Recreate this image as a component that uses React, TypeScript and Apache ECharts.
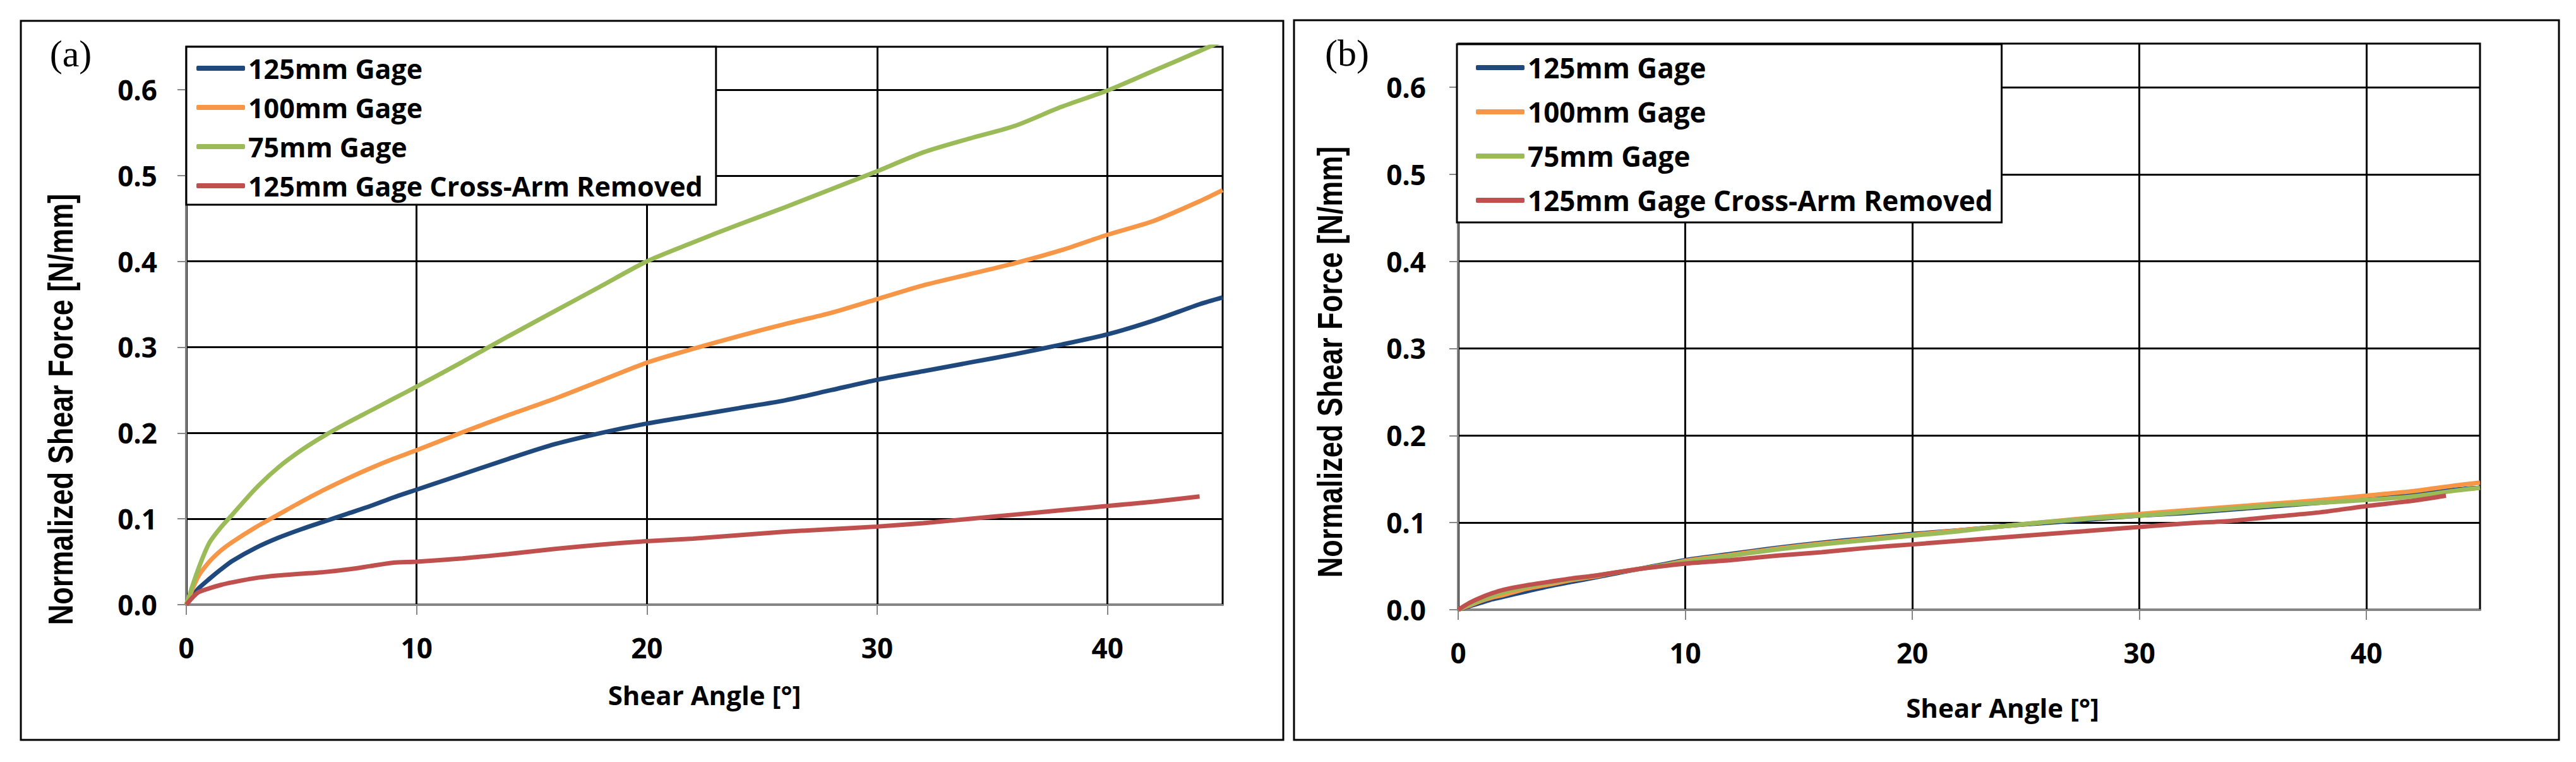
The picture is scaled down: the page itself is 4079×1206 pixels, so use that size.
import { useEffect, useRef } from "react";
import * as echarts from "echarts";

// shear angle samples [°]
const angles = [
  0, 0.5, 1, 1.5, 2, 3, 4, 5, 6, 7, 8, 9, 10, 12, 14, 16, 18, 20, 22, 24, 26,
  28, 30, 32, 34, 36, 38, 40, 42, 44, 45,
];
const anglesRedA = angles.slice(0, 30);
const anglesRedB = [...angles.slice(0, 29), 43.5];

// (a) normalized shear force [N/mm]
const gage125A = [
  0, 0.018, 0.03, 0.041, 0.051, 0.066, 0.078, 0.088, 0.097, 0.106, 0.115,
  0.125, 0.134, 0.152, 0.17, 0.187, 0.2, 0.211, 0.22, 0.229, 0.238, 0.25,
  0.262, 0.272, 0.282, 0.292, 0.303, 0.315, 0.331, 0.35, 0.358,
];
const gage100A = [
  0, 0.032, 0.05, 0.063, 0.073, 0.09, 0.105, 0.12, 0.134, 0.147, 0.159, 0.17,
  0.18, 0.201, 0.221, 0.24, 0.261, 0.282, 0.298, 0.313, 0.327, 0.34, 0.356,
  0.372, 0.385, 0.398, 0.413, 0.431, 0.447, 0.47, 0.483,
];
const gage75A = [
  0, 0.04, 0.072, 0.09, 0.105, 0.135, 0.16, 0.18, 0.197, 0.212, 0.226, 0.24,
  0.254, 0.283, 0.313, 0.342, 0.371, 0.4, 0.422, 0.443, 0.463, 0.484, 0.505,
  0.527, 0.543, 0.558, 0.58, 0.599, 0.622, 0.645, 0.657,
];
const crossArmA = [
  0, 0.014, 0.019, 0.023, 0.026, 0.031, 0.034, 0.036, 0.038, 0.041, 0.045,
  0.049, 0.05, 0.054, 0.059, 0.065, 0.07, 0.074, 0.077, 0.081, 0.085, 0.088,
  0.091, 0.095, 0.1, 0.105, 0.11, 0.115, 0.12, 0.126,
];

// (b) normalized shear force [N/mm]
const gage125B = [
  0, 0.004, 0.008, 0.012, 0.015, 0.021, 0.027, 0.032, 0.037, 0.042, 0.047,
  0.052, 0.057, 0.064, 0.071, 0.077, 0.082, 0.087, 0.091, 0.096, 0.1, 0.104,
  0.108, 0.111, 0.115, 0.119, 0.123, 0.127, 0.132, 0.138, 0.14,
];
const gage100B = [
  0, 0.005, 0.01, 0.014, 0.017, 0.024, 0.029, 0.034, 0.038, 0.043, 0.047,
  0.051, 0.056, 0.063, 0.07, 0.076, 0.081, 0.086, 0.091, 0.096, 0.101, 0.106,
  0.11, 0.114, 0.118, 0.122, 0.126, 0.131, 0.136, 0.143, 0.146,
];
const gage75B = [
  0, 0.006, 0.011, 0.016, 0.02, 0.026, 0.031, 0.035, 0.039, 0.043, 0.047,
  0.051, 0.055, 0.062, 0.069, 0.075, 0.08, 0.085, 0.09, 0.096, 0.101, 0.105,
  0.108, 0.112, 0.116, 0.12, 0.123, 0.126, 0.13, 0.137, 0.14,
];
const crossArmB = [
  0, 0.008, 0.014, 0.019, 0.023, 0.028, 0.032, 0.036, 0.039, 0.043, 0.047,
  0.05, 0.053, 0.057, 0.062, 0.066, 0.071, 0.075, 0.079, 0.083, 0.087, 0.091,
  0.095, 0.099, 0.102, 0.107, 0.112, 0.119, 0.125, 0.131,
];

const seriesNames = [
  "125mm Gage",
  "100mm Gage",
  "75mm Gage",
  "125mm Gage Cross-Arm Removed",
];
const seriesColors = ["#1F497D", "#F79646", "#9BBB59", "#C0504D"];
const xTicks = [0, 10, 20, 30, 40];
const yTicks = [0, 0.1, 0.2, 0.3, 0.4, 0.5, 0.6];

const FONT = "'Open Sans', 'Liberation Sans', sans-serif";

const pairs = (xs: number[], ys: number[]) => ys.map((y, i) => [xs[i], y]);

const makeX = (gridIndex: number, nameGap: number, shift: number) => ({
  type: "value",
  gridIndex,
  min: 0,
  max: 45,
  interval: 10,
  name: "Shear Angle [°]",
  nameLocation: "middle",
  nameGap,
  nameTextStyle: {
    fontFamily: FONT,
    fontSize: 42,
    fontWeight: "bold",
    color: "#000",
    padding: [0, 0, 0, shift],
  },
  axisLine: { show: true, onZero: false, lineStyle: { color: "#868686", width: 3 } },
  axisTick: {
    show: true,
    length: 16,
    customValues: xTicks,
    lineStyle: { color: "#868686", width: 2 },
  },
  axisLabel: {
    customValues: xTicks,
    margin: 46,
    fontFamily: FONT,
    fontSize: 44,
    fontWeight: "bold",
    color: "#000",
  },
  splitLine: { show: true, lineStyle: { color: "#000", width: 3 } },
});

const makeY = (gridIndex: number, margin: number) => ({
  type: "value",
  gridIndex,
  min: 0,
  max: 0.65,
  interval: 0.1,
  axisLine: { show: true, onZero: false, lineStyle: { color: "#868686", width: 2 } },
  axisTick: {
    show: true,
    length: 14,
    customValues: yTicks,
    lineStyle: { color: "#868686", width: 2 },
  },
  axisLabel: {
    customValues: yTicks,
    margin,
    formatter: (v: number) => v.toFixed(1),
    fontFamily: FONT,
    fontSize: 44,
    fontWeight: "bold",
    color: "#000",
  },
  splitLine: { show: true, lineStyle: { color: "#000", width: 3 } },
});

const makeLegend = (
  left: number,
  top: number,
  fontSize: number,
  itemGap: number,
  padding: number[]
) => ({
  data: seriesNames,
  orient: "vertical",
  left,
  top,
  icon: "roundRect",
  itemWidth: 77,
  itemHeight: 8,
  itemGap,
  padding,
  selectedMode: false,
  backgroundColor: "#fff",
  borderColor: "#000",
  borderWidth: 3,
  textStyle: {
    fontFamily: FONT,
    fontSize,
    fontWeight: "bold",
    color: "#000",
    lineHeight: 50,
  },
});

const makeSeries = (
  idx: number,
  data: { xs: number[]; ys: number[] }[]
) =>
  data.map((d, i) => ({
    name: seriesNames[i],
    type: "line",
    xAxisIndex: idx,
    yAxisIndex: idx,
    data: pairs(d.xs, d.ys),
    showSymbol: false,
    symbol: "none",
    smooth: 0.25,
    clip: true,
    lineStyle: { width: 7, color: seriesColors[i] },
    itemStyle: { color: seriesColors[i] },
  }));

const yTitle = (x: number, y: number) => ({
  type: "text",
  x,
  y,
  rotation: Math.PI / 2,
  scaleY: 1.25,
  style: {
    text: "Normalized Shear Force [N/mm]",
    fontFamily: "'Liberation Sans', Arial, sans-serif",
    fontSize: 45,
    fontWeight: "bold",
    fill: "#000",
    align: "center",
    verticalAlign: "middle",
  },
});

const panelLabel = (text: string, x: number, y: number) => ({
  type: "text",
  x,
  y,
  style: {
    text,
    fontFamily: "'Liberation Serif', serif",
    fontSize: 60,
    fill: "#000",
    align: "center",
    verticalAlign: "middle",
  },
});

const App = () => {
  const chartRef = useRef<HTMLDivElement>(null);

  useEffect(() => {
    document.body.style.margin = "0";
    if (!chartRef.current) return;
    const chart = echarts.init(chartRef.current, undefined, { renderer: "svg" });

    const option = {
      animation: false,
      backgroundColor: "#fff",
      grid: [
        {
          left: 295,
          top: 74,
          width: 1641,
          height: 883,
          show: true,
          borderColor: "#000",
          borderWidth: 3,
          backgroundColor: "transparent",
          outerBoundsMode: "none",
        },
        {
          left: 2309,
          top: 69,
          width: 1618,
          height: 896,
          show: true,
          borderColor: "#000",
          borderWidth: 3,
          backgroundColor: "transparent",
          outerBoundsMode: "none",
        },
      ],
      xAxis: [makeX(0, 121, 0), makeX(1, 133, 106)],
      yAxis: [makeY(0, 46), makeY(1, 51)],
      legend: [
        makeLegend(295, 74, 43, 12, [9, 21, 5, 16]),
        makeLegend(2307, 70, 44, 20, [12, 14, 10, 30]),
      ],
      series: [
        ...makeSeries(0, [
          { xs: angles, ys: gage125A },
          { xs: angles, ys: gage100A },
          { xs: angles, ys: gage75A },
          { xs: anglesRedA, ys: crossArmA },
        ]),
        ...makeSeries(1, [
          { xs: angles, ys: gage125B },
          { xs: angles, ys: gage100B },
          { xs: angles, ys: gage75B },
          { xs: anglesRedB, ys: crossArmB },
        ]),
      ],
      graphic: [
        {
          type: "rect",
          shape: { x: 33, y: 33, width: 1999, height: 1138 },
          style: { fill: "none", stroke: "#000", lineWidth: 3 },
          silent: true,
        },
        {
          type: "rect",
          shape: { x: 2049, y: 32, width: 2003, height: 1139 },
          style: { fill: "none", stroke: "#000", lineWidth: 3 },
          silent: true,
        },
        panelLabel("(a)", 112, 85),
        panelLabel("(b)", 2133, 84),
        yTitle(96, 648),
        yTitle(2106, 573),
      ],
    };

    chart.setOption(option);

    return () => {
      chart.dispose();
    };
  }, []);

  return <div ref={chartRef} style={{ width: 4079, height: 1206 }} />;
};

export default App;
